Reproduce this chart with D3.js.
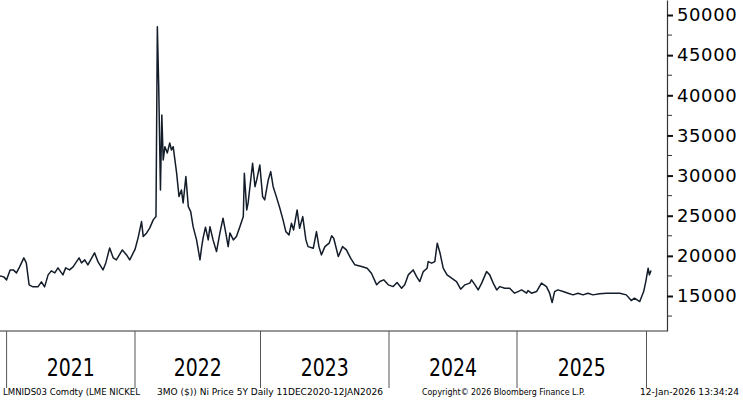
<!DOCTYPE html>
<html>
<head>
<meta charset="utf-8">
<script src="https://cdn.jsdelivr.net/npm/d3@7"></script>
<style>
  body { margin: 0; background: #fff; }
  svg { display: block; }
</style>
</head>
<body>
<svg></svg>
<script>
const svgWidth = 743
const svgHeight = 400
const plot = { left: 0, right: 667, top: 0, bottom: 331 }

// LME nickel 3M (approx. weekly)
const dates = [
  "2020-12-11", "2020-12-23", "2021-01-01", "2021-01-11", "2021-01-20", "2021-01-29", "2021-02-07", "2021-02-19",
  "2021-02-26", "2021-03-06", "2021-03-17", "2021-03-31", "2021-04-10", "2021-04-19", "2021-04-29", "2021-05-08",
  "2021-05-18", "2021-05-27", "2021-06-10", "2021-06-18", "2021-06-29", "2021-07-09", "2021-07-26", "2021-08-02",
  "2021-08-11", "2021-08-20", "2021-09-08", "2021-09-18", "2021-10-02", "2021-10-10", "2021-10-21", "2021-10-31",
  "2021-11-09", "2021-11-26", "2021-12-08", "2021-12-17", "2022-01-01", "2022-01-10", "2022-01-20", "2022-01-25",
  "2022-02-04", "2022-02-13", "2022-02-23", "2022-03-03", "2022-03-07", "2022-03-11", "2022-03-16", "2022-03-20",
  "2022-03-24", "2022-03-29", "2022-04-05", "2022-04-12", "2022-04-17", "2022-04-22", "2022-05-02", "2022-05-09",
  "2022-05-16", "2022-05-21", "2022-05-29", "2022-06-05", "2022-06-12", "2022-06-19", "2022-06-29", "2022-07-09",
  "2022-07-14", "2022-07-18", "2022-07-25", "2022-08-02", "2022-08-07", "2022-08-16", "2022-08-26", "2022-09-05",
  "2022-09-14", "2022-09-22", "2022-09-29", "2022-10-04", "2022-10-14", "2022-10-23", "2022-11-02", "2022-11-12",
  "2022-11-15", "2022-11-22", "2022-11-26", "2022-12-09", "2022-12-16", "2022-12-21", "2022-12-30", "2023-01-07",
  "2023-01-13", "2023-01-23", "2023-01-30", "2023-02-06", "2023-02-15", "2023-02-25", "2023-03-06", "2023-03-14",
  "2023-03-23", "2023-03-30", "2023-04-05", "2023-04-15", "2023-04-22", "2023-05-01", "2023-05-10", "2023-05-16",
  "2023-05-31", "2023-06-09", "2023-06-16", "2023-06-23", "2023-07-03", "2023-07-15", "2023-07-22", "2023-07-28",
  "2023-08-10", "2023-08-22", "2023-09-02", "2023-09-14", "2023-09-26", "2023-10-15", "2023-10-31", "2023-11-12",
  "2023-11-27", "2023-12-06", "2023-12-17", "2023-12-30", "2024-01-13", "2024-01-24", "2024-02-06", "2024-02-15",
  "2024-02-25", "2024-03-10", "2024-03-20", "2024-03-29", "2024-04-08", "2024-04-19", "2024-04-22", "2024-05-02",
  "2024-05-11", "2024-05-18", "2024-05-26", "2024-06-04", "2024-06-15", "2024-06-28", "2024-07-12", "2024-07-24",
  "2024-08-05", "2024-08-19", "2024-08-24", "2024-09-03", "2024-09-12", "2024-09-22", "2024-10-06", "2024-10-15",
  "2024-10-25", "2024-11-04", "2024-11-13", "2024-11-27", "2024-12-11", "2024-12-25", "2025-01-04", "2025-01-14",
  "2025-01-28", "2025-02-01", "2025-02-11", "2025-02-25", "2025-03-11", "2025-03-25", "2025-04-03", "2025-04-10",
  "2025-04-17", "2025-04-26", "2025-05-11", "2025-05-25", "2025-06-08", "2025-06-22", "2025-07-06", "2025-07-20",
  "2025-08-03", "2025-08-22", "2025-09-10", "2025-09-29", "2025-10-18", "2025-11-05", "2025-11-19", "2025-11-28",
  "2025-12-13", "2025-12-24", "2025-12-30", "2026-01-05", "2026-01-08", "2026-01-12"
]
const prices = [
  17500, 17380, 17010, 18250, 18250, 17880, 18630, 19750,
  19120, 16390, 16140, 16140, 16760, 16140, 17630, 18130,
  17880, 18500, 17630, 18500, 18250, 18630, 19750, 19120,
  19500, 18870, 20370, 19250, 18250, 19120, 20990, 19750,
  19500, 20740, 20120, 19500, 20800, 22240, 24270, 22400,
  22860, 23480, 24480, 24890, 48540, 41070, 28210, 37550,
  31950, 33600, 32820, 34060, 33190, 33600, 30330, 27380,
  28210, 26590, 29870, 26130, 25510, 23640, 21990, 19500,
  21150, 22200, 23570, 21990, 23640, 21990, 20530, 22860,
  24690, 22860, 21150, 22860, 21990, 22400, 23640, 24890,
  30290, 25720, 26590, 31540, 28620, 29460, 31330, 27380,
  26970, 29460, 30490, 28620, 27380, 25930, 24480, 23020,
  22610, 24070, 23230, 25720, 23440, 24890, 21990, 21150,
  20950, 23020, 21150, 20120, 21150, 21580, 22490, 22200,
  19910, 21150, 20740, 19710, 18880, 18670, 18460, 17840,
  16390, 16800, 17010, 16390, 16170, 16670, 15970, 16390,
  17630, 18250, 17420, 16800, 18040, 18460, 19290, 19090,
  19290, 21580, 20330, 18460, 17630, 17220, 16800, 15850,
  16390, 16600, 17010, 16390, 15760, 16600, 18040, 17630,
  16600, 15760, 16170, 15970, 15970, 15350, 15550, 15760,
  15350, 15680, 15350, 15550, 16600, 16170, 15350, 14180,
  15550, 15760, 15550, 15350, 15140, 15350, 15140, 15350,
  15140, 15270, 15350, 15350, 15350, 15140, 14430, 14730,
  14310, 15550, 16800, 18460, 17630, 18170
]

const yearTicks = ["2021-01-01", "2022-01-01", "2023-01-01", "2024-01-01", "2025-01-01", "2026-01-01"]
const yearLabels = ["2021", "2022", "2023", "2024", "2025"]
const majorTicks = [15000, 20000, 25000, 30000, 35000, 40000, 45000, 50000]
const minorTicks = [12500, 17500, 22500, 27500, 32500, 37500, 42500, 47500]

const footer = [
  { text: "LMNIDS03 Comdty (LME NICKEL", x: 3, len: 137 },
  { text: "3MO ($)) Ni Price 5Y Daily 11DEC2020-12JAN2026", x: 157, len: 226 },
  { text: "Copyright\u00a9 2026 Bloomberg Finance L.P.", x: 422, len: 163 },
  { text: "12-Jan-2026 13:34:24", x: 640, len: 99 }
]

const parse = d3.timeParse("%Y-%m-%d")
const data = dates.map((d, i) => ({ date: parse(d), value: prices[i] }))

const svg = d3.select("svg")
  .attr("width", svgWidth)
  .attr("height", svgHeight)
  .style("font-family", "'DejaVu Sans', Verdana, sans-serif")

// trading-day axis: year boundaries are not evenly spaced
const xScale = d3.scaleTime()
  .domain([parse("2020-12-11")].concat(yearTicks.map(parse), [parse("2026-01-12")]))
  .range([0, 6.6, 135, 260.5, 389, 517, 646.5, 651])

const yScale = d3.scaleLinear()
  .domain([10640, 51870])
  .range([plot.bottom, plot.top])

const ink = "#131c29"

// price line
const line = d3.line()
  .x(d => xScale(d.date))
  .y(d => yScale(d.value))

svg.append("path")
  .datum(data)
  .attr("d", line)
  .attr("fill", "none")
  .attr("stroke", ink)
  .attr("stroke-width", 1.5)
  .attr("stroke-linejoin", "round")

// right axis
const yAxis = svg.append("g")
  .attr("transform", `translate(${plot.right},0)`)
  .call(d3.axisRight(yScale).tickValues(majorTicks).tickSize(6).tickSizeOuter(0).tickPadding(4))

yAxis.select(".domain").attr("stroke", "#333").attr("stroke-width", 1.2)
yAxis.selectAll(".tick line").attr("stroke", "#111").attr("stroke-width", 2)
yAxis.selectAll(".tick text")
  .attr("font-size", 18)
  .attr("font-family", "'DejaVu Sans', Verdana, sans-serif")
  .attr("letter-spacing", 0.6)
  .attr("fill", "#000")
  .text(d => d3.format("d")(d))

svg.append("g")
  .selectAll("line")
  .data(minorTicks)
  .enter()
  .append("line")
  .attr("x1", plot.right)
  .attr("x2", plot.right + 5)
  .attr("y1", d => yScale(d))
  .attr("y2", d => yScale(d))
  .attr("stroke", "#333")
  .attr("stroke-width", 1)

// bottom axis line
svg.append("line")
  .attr("x1", plot.left)
  .attr("x2", plot.right)
  .attr("y1", plot.bottom)
  .attr("y2", plot.bottom)
  .attr("stroke", "#333")
  .attr("stroke-width", 1.2)

// year separators
svg.append("g")
  .selectAll("line")
  .data(yearTicks)
  .enter()
  .append("line")
  .attr("x1", d => xScale(parse(d)))
  .attr("x2", d => xScale(parse(d)))
  .attr("y1", plot.bottom)
  .attr("y2", 388)
  .attr("stroke", "#555")
  .attr("stroke-width", 1)

svg.append("g")
  .selectAll("text")
  .data(yearLabels)
  .enter()
  .append("text")
  .attr("x", (d, i) => (xScale(parse(yearTicks[i])) + xScale(parse(yearTicks[i + 1]))) / 2 - 24)
  .attr("y", 376)
  .attr("font-size", 25)
  .attr("textLength", 48)
  .attr("lengthAdjust", "spacingAndGlyphs")
  .attr("fill", "#000")
  .text(d => d)

// footer
svg.append("g")
  .selectAll("text")
  .data(footer)
  .enter()
  .append("text")
  .attr("x", d => d.x)
  .attr("y", 395)
  .attr("font-size", 9.5)
  .attr("textLength", d => d.len)
  .attr("lengthAdjust", "spacingAndGlyphs")
  .attr("fill", "#000")
  .text(d => d.text)
</script>
</body>
</html>
